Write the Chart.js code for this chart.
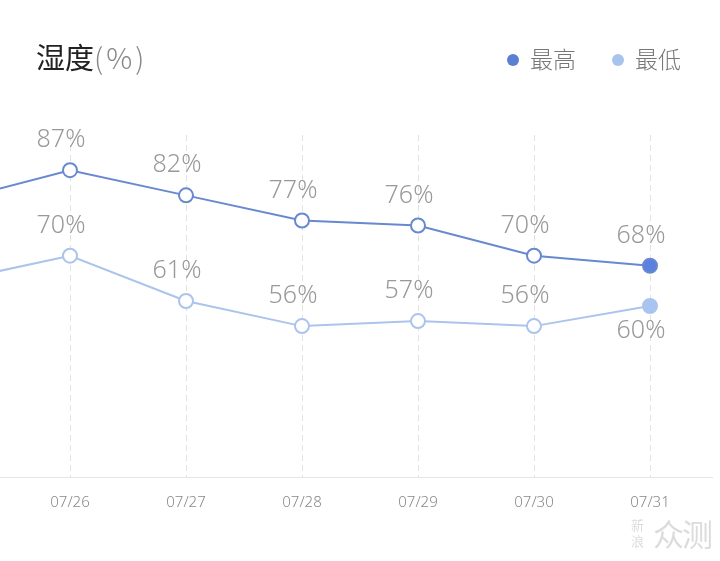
<!DOCTYPE html>
<html>
<head>
<meta charset="utf-8">
<script src="https://cdn.jsdelivr.net/npm/chart.js@4/dist/chart.umd.min.js"></script>
<style>
  html, body { margin: 0; padding: 0; background: #fff; }
  #wrap { position: relative; width: 720px; height: 561px; font-family: "Noto Sans CJK SC", "Noto Sans", sans-serif; }
  #title { position: absolute; left: 36px; top: 36px; font-size: 29px; color: #222; line-height: 40px; }
  #title .unit { color: #888; font-weight: 300; letter-spacing: 3px; }
  .leg { position: absolute; top: 42px; font-size: 23px; color: #777; line-height: 32px; font-weight: 300; }
  .leg i { display: inline-block; width: 12px; height: 12px; border-radius: 6px; margin-right: 11px; vertical-align: 2px; }
  #mark { position: absolute; left: 631px; top: 510px; color: #dcdcdc; }
  #mark .s { display: inline-block; width: 14px; font-size: 13px; line-height: 16px; vertical-align: middle; }
  #mark .b { font-size: 31px; vertical-align: middle; letter-spacing: -2px; margin-left: 8px; }
</style>
</head>
<body>
<div id="wrap">
  <canvas id="myChart" width="720" height="561"></canvas>
  <div id="title">湿度<span class="unit">(%)</span></div>
  <div class="leg" style="left:507px"><i style="background:#5b7fd1"></i>最高</div>
  <div class="leg" style="left:612px"><i style="background:#a9c3ef"></i>最低</div>
  <div id="mark"><span class="s">新浪</span><span class="b">众测</span></div>
</div>
<script>
// dates, first one is just off the left edge
const dateLabels = ['07/25', '07/26', '07/27', '07/28', '07/29', '07/30', '07/31'];
const maxValues = [81, 87, 82, 77, 76, 70, 68];
const minValues = [65, 70, 61, 56, 57, 56, 60];

const maxColor = '#6889cf';
const minColor = '#abc4ec';

// draws the "87%" style labels next to each point
const valueLabels = {
    id: 'valueLabels',
    afterDatasetsDraw(chart) {
        const ctx = chart.ctx;
        ctx.save();
        ctx.font = '300 25px "Noto Sans", sans-serif';
        ctx.fillStyle = '#999';
        ctx.textAlign = 'center';
        ctx.textBaseline = 'middle';
        chart.data.datasets.forEach((ds, di) => {
            const meta = chart.getDatasetMeta(di);
            meta.data.forEach((pt, i) => {
                if (i === 0) return;
                const v = ds.data[i].y;
                let dy = -30;
                // last low point has its label underneath
                if (di === 1 && i === ds.data.length - 1) dy = 25;
                ctx.fillText(v + '%', pt.x - 9, pt.y + dy);
            });
        });
        ctx.restore();
    }
};

function pointFill(color, n) {
    return Array.from({ length: n }, (_, i) => i === n - 1 ? color : '#fff');
}

const ctx = document.getElementById('myChart').getContext('2d');
new Chart(ctx, {
    type: 'line',
    data: {
        datasets: [{
            label: '最高',
            data: maxValues.map((v, i) => ({ x: i, y: v })),
            borderColor: maxColor,
            borderWidth: 2,
            pointRadius: 7,
            pointBorderWidth: 2,
            pointBorderColor: maxColor,
            pointBackgroundColor: pointFill('#5a80e0', maxValues.length),
            tension: 0
        }, {
            label: '最低',
            data: minValues.map((v, i) => ({ x: i, y: v })),
            borderColor: minColor,
            borderWidth: 2,
            pointRadius: 7,
            pointBorderWidth: 2,
            pointBorderColor: minColor,
            pointBackgroundColor: pointFill('#a9c4f2', minValues.length),
            tension: 0
        }]
    },
    options: {
        responsive: false,
        animation: false,
        layout: { autoPadding: false, padding: { top: 135, left: 0, right: 8, bottom: 32 } },
        plugins: {
            legend: { display: false },
            tooltip: { enabled: false }
        },
        scales: {
            x: {
                type: 'linear',
                min: 1 - 70 / 116,
                max: 1 + 642 / 116,
                afterBuildTicks: (scale) => {
                    scale.ticks = dateLabels.slice(1).map((l, i) => ({ value: i + 1 }));
                },
                afterFit: (scale) => {
                    scale.paddingLeft = 0;
                    scale.paddingRight = 0;
                },
                ticks: {
                    padding: 17,
                    color: '#888',
                    font: { size: 15, family: '"Noto Sans", sans-serif', weight: 300 },
                    callback: (v) => dateLabels[v]
                },
                grid: { color: '#e2e2e2', lineWidth: 1, drawTicks: false },
                border: { display: true, color: '#e6e6e6', width: 1, dash: [6, 4] }
            },
            y: {
                display: false,
                min: 26,
                max: 94
            }
        }
    },
    plugins: [valueLabels]
});
</script>
</body>
</html>
